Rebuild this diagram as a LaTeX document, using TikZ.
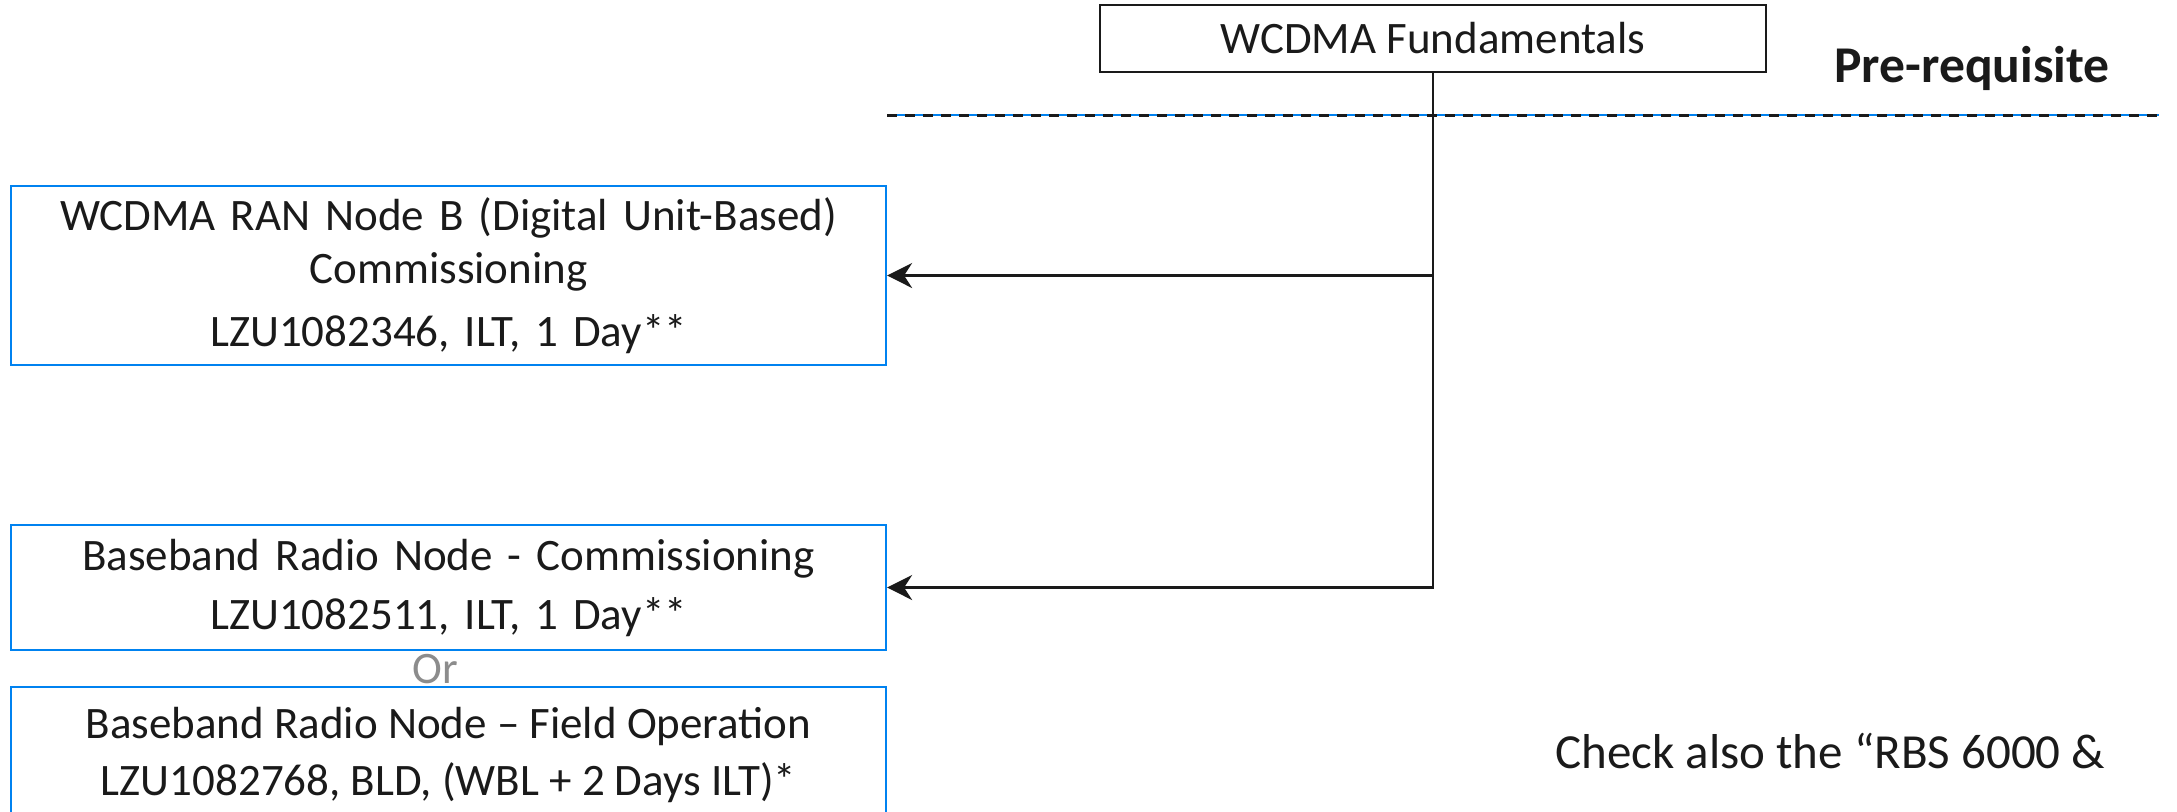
\documentclass[tikz,border=0pt]{standalone}
\usepackage{fontspec}
\setmainfont{Carlito}
\usetikzlibrary{arrows.meta}
\definecolor{ebl}{RGB}{0,130,240}
\definecolor{orgray}{RGB}{140,140,140}
\definecolor{ink}{RGB}{26,26,26}
\begin{document}
\begin{tikzpicture}[x=0.5pt,y=-0.5pt,
  txt/.style={font=\fontsize{22.5}{26.5}\selectfont, text=ink},
  bluebox/.style={txt, draw=ebl, line width=1.1pt, align=center, inner sep=0pt, text width=437.5pt},
  blackbox/.style={txt, draw=ink, line width=1.1pt, align=center, inner sep=0pt},
  conn/.style={draw=ink, line width=1.2pt},
  arr/.style={conn, -{Stealth[length=12.5pt,width=12.5pt,inset=4pt]}}]
\useasboundingbox (0,0) rectangle (2177,811);
\node[blackbox, minimum width=333pt, minimum height=33.5pt] (fund) at (1433,38.5) {WCDMA Fundamentals};
\node[txt, font=\fontsize{25.8}{30}\selectfont\bfseries, anchor=west, inner sep=0pt] (pre) at (1834,68) {Pre-requisite};
\coordinate (dl) at (887,115);
\coordinate (dr) at (2159,115);
\draw[ebl, line width=0.6pt] (dl) -- (dr);
\draw[ink, line width=1.5pt, dash pattern=on 5pt off 4pt] (dl) -- (dr);
\node[bluebox, minimum height=89.5pt] (b1) at (448.5,275.5) {WCDMA RAN Node B (Digital Unit-Based)\\Commissioning\\[5pt] LZU1082346, ILT, 1 Day**};
\node[bluebox, minimum height=62.5pt] (b2) at (448.5,587.5) {Baseband Radio Node - Commissioning\\[3pt] LZU1082511, ILT, 1 Day**};
\node[txt, text=orgray] (or) at (435,669) {Or};
\node[bluebox, minimum height=107pt, anchor=north] (b3) at (448.5,686) {};
\node[txt, align=center, anchor=north] (b3t) at (448.5,700) {Baseband Radio Node -- Field Operation\\[2pt] LZU1082768, BLD, (WBL + 2 Days ILT)*};
\node[txt, font=\fontsize{24.5}{28}\selectfont, anchor=base west, inner sep=0pt] (chk) at (1555,768) {Check also the “RBS 6000 \&};
\draw[arr] (fund.south) |- (b2.east);
\draw[arr] (fund.south |- b1.east) -- (b1.east);
\end{tikzpicture}
\end{document}
